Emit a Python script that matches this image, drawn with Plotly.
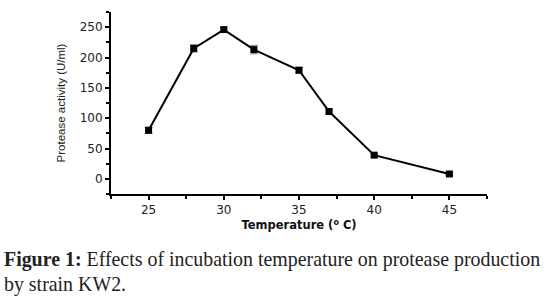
import plotly.graph_objects as go

temperature = [25, 28, 30, 32, 35, 37, 40, 45]
activity = [80, 215, 246, 213, 179, 111, 39, 8]
errors = [5, 6, 3, 7, 5, 3, 2, 2]
x_ticks = [25, 30, 35, 40, 45]
y_ticks = [0, 50, 100, 150, 200, 250]

fig = go.Figure()
fig.add_trace(go.Scatter(
    x=temperature, y=activity, mode="lines+markers",
    line=dict(color="black", width=2),
    marker=dict(symbol="square", size=7, color="black"),
    error_y=dict(type="data", array=errors, visible=True, color="#888", thickness=1, width=4),
    showlegend=False,
))

tickfont = dict(family="DejaVu Sans", size=12, color="#222")
fig.update_layout(
    width=547, height=307,
    margin=dict(l=111, r=60, t=12, b=113),
    paper_bgcolor="white", plot_bgcolor="white",
    xaxis=dict(range=[22.5, 47.5], tickvals=x_ticks, showline=True, linecolor="black", linewidth=2,
               ticks="outside", ticklen=4, tickwidth=1.5, tickcolor="black", showgrid=False, zeroline=False,
               tickfont=tickfont, automargin=False,
               minor=dict(tickvals=[22.5, 27.5, 32.5, 37.5, 42.5, 47.5], ticks="outside", ticklen=3, tickcolor="black"),
               title=dict(text="<b>Temperature (<sup>o</sup> C)</b>", font=dict(family="DejaVu Sans", size=11.5, color="#111"), standoff=5)),
    yaxis=dict(range=[-25, 275], tickvals=y_ticks, showline=True, linecolor="black", linewidth=2,
               ticks="outside", ticklen=4, tickwidth=1.5, tickcolor="black", showgrid=False, zeroline=False,
               tickfont=tickfont, automargin=False,
               minor=dict(tickvals=[-25, 25, 75, 125, 175, 225, 275], ticks="outside", ticklen=3, tickcolor="black"),
               title=dict(text="Protease activity (U/ml)", font=dict(family="Liberation Sans Narrow, Arial Narrow, Liberation Sans", size=11.5, color="#222"), standoff=12)),
)

fig.add_annotation(xref="paper", yref="paper", x=(2 - 111) / 376, y=(194 - 259) / 182,
                   xanchor="left", yanchor="middle", showarrow=False,
                   text="<b>Figure 1:</b> Effects of incubation temperature on protease production",
                   font=dict(family="Liberation Serif", size=19.9, color="#222"))
fig.add_annotation(xref="paper", yref="paper", x=(2 - 111) / 376, y=(194 - 284) / 182,
                   xanchor="left", yanchor="middle", showarrow=False,
                   text="by strain KW2.",
                   font=dict(family="Liberation Serif", size=19.9, color="#222"))

fig.write_html("out.html", config={"displayModeBar": False},
               post_script="document.body.style.margin='0';")
